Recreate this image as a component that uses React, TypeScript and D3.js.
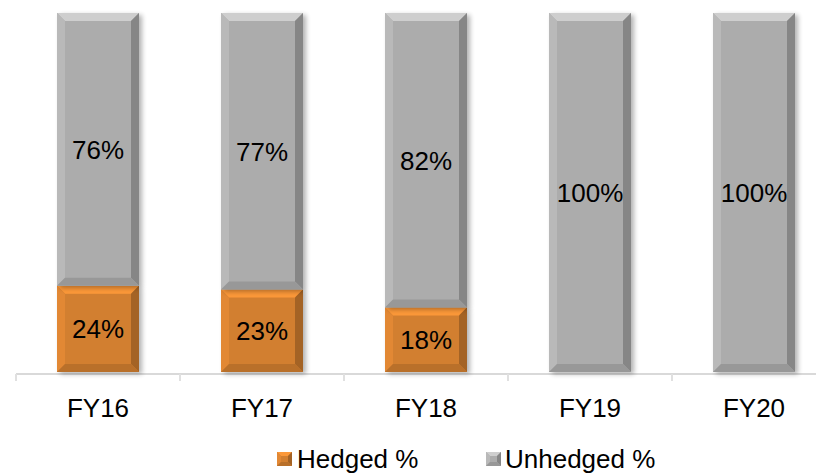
import React from "react";
import * as d3 from "d3";

const categories = ["FY16", "FY17", "FY18", "FY19", "FY20"];
const hedged = [24, 23, 18, 0, 0];
const unhedged = [76, 77, 82, 100, 100];
const seriesNames = ["Hedged %", "Unhedged %"];

const W = 816;
const H = 474;
const colors = { hedged: "#D27F30", unhedged: "#ACACAC" };

function Bevel({ x, y, w, h, color, b = 8, shadow = true }: any) {
  const c = d3.color(color)!;
  const light = c.brighter(0.5).toString();
  const lighter = c.brighter(0.2).toString();
  const dark = c.darker(0.35).toString();
  const darker = c.darker(0.7).toString();
  const bb = Math.min(b, w / 2, h / 2);
  const p = (pts: number[][]) => pts.map((q) => q.join(",")).join(" ");
  return (
    <g>
      {shadow && (
        <rect x={x + 3} y={y + 2} width={w} height={h} fill="#000" opacity={0.3} filter="url(#blur)" />
      )}
      <rect x={x} y={y} width={w} height={h} fill={color} />
      <polygon points={p([[x, y], [x + w, y], [x + w - bb, y + bb], [x + bb, y + bb]])} fill={light} />
      <polygon points={p([[x, y], [x + bb, y + bb], [x + bb, y + h - bb], [x, y + h]])} fill={lighter} />
      <polygon points={p([[x + w, y], [x + w, y + h], [x + w - bb, y + h - bb], [x + w - bb, y + bb]])} fill={darker} />
      <polygon points={p([[x, y + h], [x + bb, y + h - bb], [x + w - bb, y + h - bb], [x + w, y + h]])} fill={dark} />
    </g>
  );
}

export default function App() {
  const x = d3.scaleBand<string>().domain(categories).range([16, 836]).paddingInner(0.5).paddingOuter(0.25);
  const y = d3.scaleLinear().domain([0, 100]).range([372, 13]);
  const font = "'Liberation Sans', Arial, sans-serif";
  const bw = x.bandwidth();
  const step = x.step();
  const tickXs = d3.range(categories.length + 1).map((i) => 16 + i * step);
  return (
    <svg width={W} height={H} style={{ position: "absolute", left: 0, top: 0 }}>
      <defs>
        <filter id="blur" x="-20%" y="-20%" width="140%" height="140%">
          <feGaussianBlur stdDeviation="2.5" />
        </filter>
      </defs>
      <rect width={W} height={H} fill="#fff" />
      <line x1={16} x2={W} y1={374} y2={374} stroke="#D9D9D9" strokeWidth={2} />
      {tickXs.map((t) => (
        <line key={t} x1={t} x2={t} y1={374} y2={381} stroke="#E0E0E0" strokeWidth={2} />
      ))}
      {categories.map((cat, i) => {
        const x0 = x(cat)!;
        const hTop = y(hedged[i]);
        const uTop = y(hedged[i] + unhedged[i]);
        return (
          <g key={cat}>
            {hedged[i] > 0 && (
              <Bevel x={x0} y={hTop} w={bw} h={y(0) - hTop} color={colors.hedged} />
            )}
            <Bevel x={x0} y={uTop} w={bw} h={hTop - uTop} color={colors.unhedged} />
          </g>
        );
      })}
      {categories.map((cat, i) => {
        const cx = x(cat)! + bw / 2;
        const hTop = y(hedged[i]);
        const uTop = y(hedged[i] + unhedged[i]);
        return (
          <g key={cat + "l"} fontFamily={font} fontSize={26} fill="#000" textAnchor="middle">
            {hedged[i] > 0 && (
              <text x={cx} y={(hTop + y(0)) / 2} dy="0.36em">{hedged[i]}%</text>
            )}
            <text x={cx} y={(uTop + hTop) / 2} dy="0.36em">{unhedged[i]}%</text>
            <text x={cx} y={408} dy="0.36em">{cat}</text>
          </g>
        );
      })}
      <g fontFamily={font} fontSize={26} fill="#000">
        <Bevel x={277} y={452} w={15} h={14} color={colors.hedged} b={4} shadow={false} />
        <text x={297} y={459} dy="0.34em">{seriesNames[0]}</text>
        <Bevel x={486} y={452} w={15} h={14} color={colors.unhedged} b={4} shadow={false} />
        <text x={505} y={459} dy="0.34em">{seriesNames[1]}</text>
      </g>
    </svg>
  );
}
